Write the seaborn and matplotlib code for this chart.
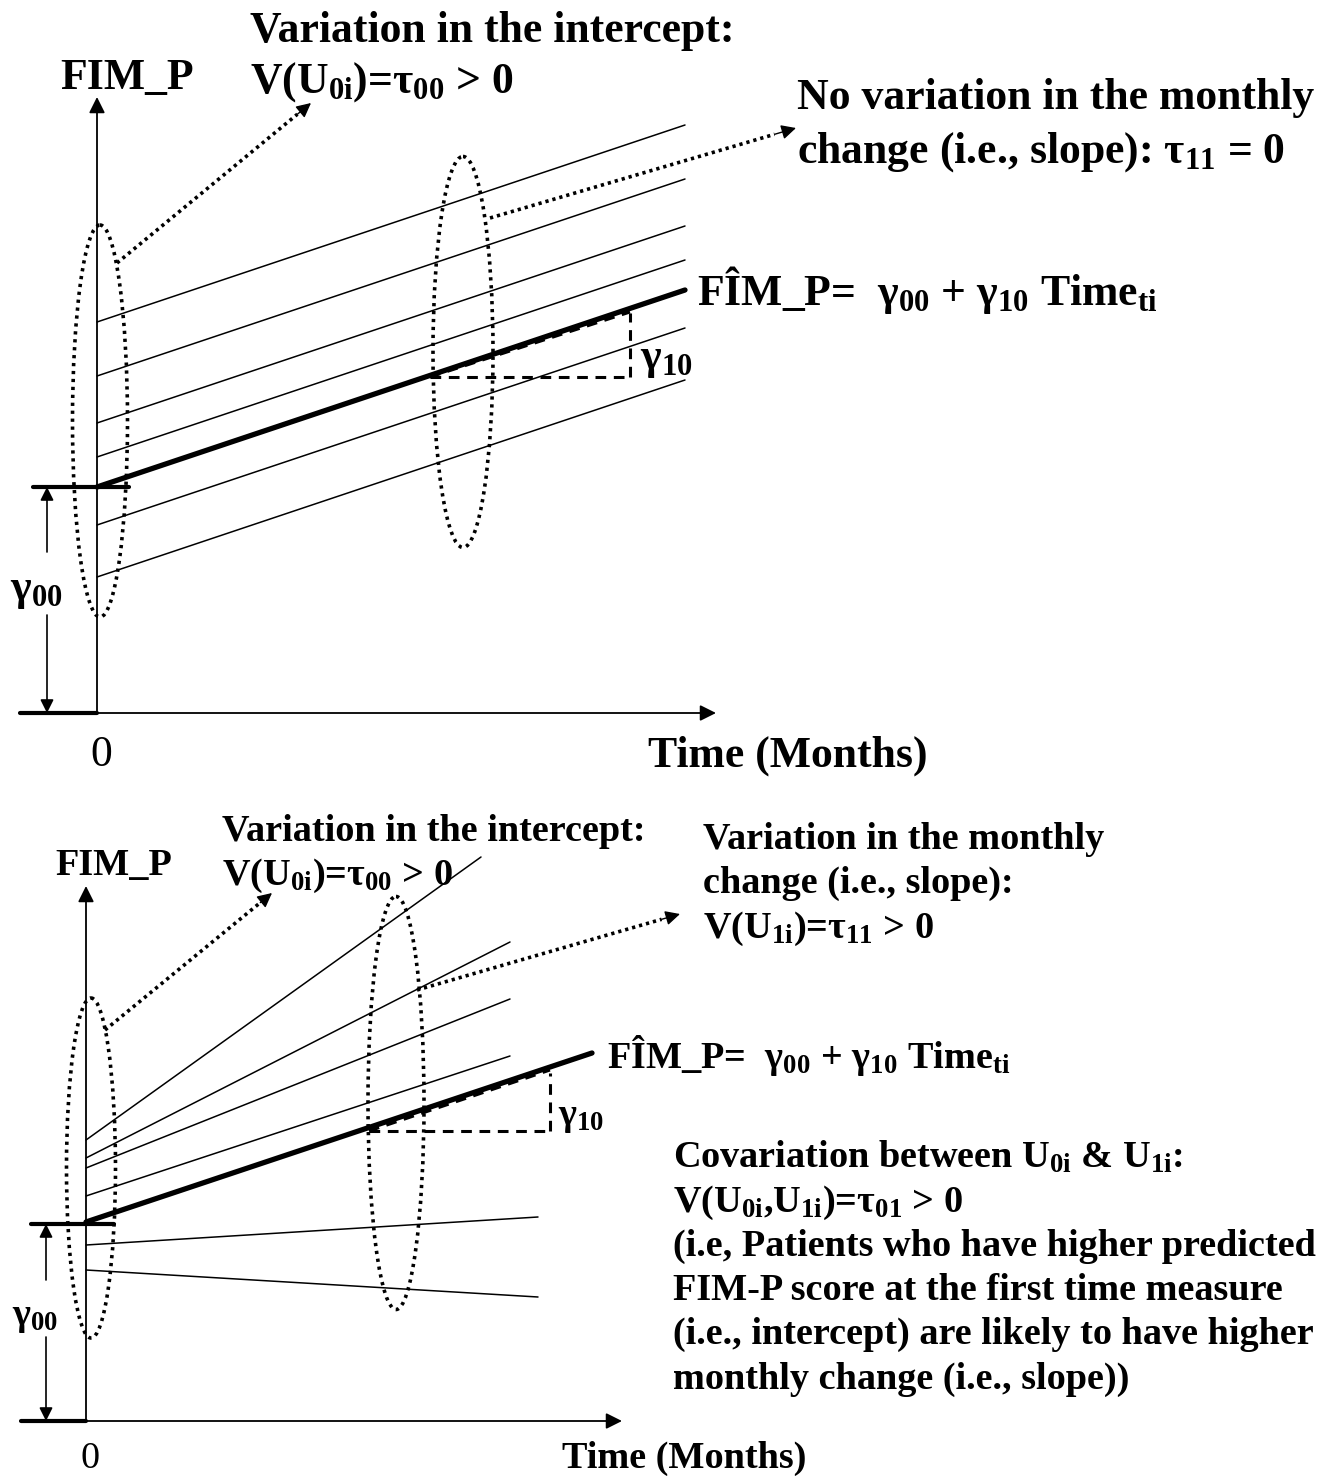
import matplotlib
matplotlib.use("Agg")
import matplotlib.pyplot as plt
from matplotlib.patches import Ellipse
import pandas as pd
import seaborn as sns

sns.set_theme(style="white")
plt.rcParams['font.family'] = ['Liberation Serif', 'DejaVu Serif']
plt.rcParams['font.weight'] = 'bold'

# ---- trajectories (pixel positions of both ends) ----
# top panel: same slope, different intercepts
top_x_start = [97, 97, 97, 97, 97, 97]
top_x_end = [685, 685, 685, 685, 685, 685]
top_y_start = [322, 376, 423, 457, 525, 577]
top_y_end = [125, 179, 226, 260, 328, 380]
top_mean_x = [97, 685]
top_mean_y = [487, 290]

# bottom panel: intercepts and slopes both vary
bot_x_start = [86, 86, 86, 86, 86, 86]
bot_x_end = [481, 510, 510, 510, 538, 538]
bot_y_start = [1140, 1158, 1168, 1196, 1245, 1270]
bot_y_end = [857, 942, 999, 1056, 1217, 1297]
bot_mean_x = [86, 592]
bot_mean_y = [1222, 1053]

W, H = 1342, 1476
fig = plt.figure(figsize=(W / 100, H / 100), dpi=100)
ax = fig.add_axes([0, 0, 1, 1])

rows = []
for i in range(len(top_y_start)):
    rows.append(("t%d" % i, top_x_start[i], top_y_start[i]))
    rows.append(("t%d" % i, top_x_end[i], top_y_end[i]))
for i in range(len(bot_y_start)):
    rows.append(("b%d" % i, bot_x_start[i], bot_y_start[i]))
    rows.append(("b%d" % i, bot_x_end[i], bot_y_end[i]))
lines = pd.DataFrame(rows, columns=["line", "x", "y"])
sns.lineplot(data=lines, x="x", y="y", units="line", estimator=None,
             sort=False, color="black", lw=1.1, ax=ax, legend=False)

mean = pd.DataFrame({"line": ["top", "top", "bot", "bot"],
                     "x": top_mean_x + bot_mean_x,
                     "y": top_mean_y + bot_mean_y})
sns.lineplot(data=mean, x="x", y="y", units="line", estimator=None,
             sort=False, color="black", lw=3.8, ax=ax, legend=False)

ax.set_xlim(0, W)
ax.set_ylim(H, 0)
ax.axis("off")


def arrow(x0, y0, x1, y1, lw=1.3, ms=24):
    ax.annotate("", xy=(x1, y1), xytext=(x0, y0),
                arrowprops=dict(arrowstyle="-|>", color="black", lw=lw,
                                mutation_scale=ms, shrinkA=0, shrinkB=0))


def dotted_arrow(x0, y0, x1, y1):
    f = 0.93
    xm, ym = x0 + (x1 - x0) * f, y0 + (y1 - y0) * f
    ax.plot([x0, xm], [y0, ym], color="black", lw=2.6,
            linestyle=(0, (0.9, 1.1)))
    arrow(xm, ym, x1, y1, lw=1, ms=22)


def dotted_ellipse(cx, cy, w, h):
    ax.add_patch(Ellipse((cx, cy), w, h, fill=False, ec="black", lw=2.6,
                         linestyle=(0, (0.9, 1.3))))


def dashed(xs, ys):
    ax.plot(xs, ys, color="black", lw=2.2, linestyle=(0, (3.5, 2.5)))


def label(x, yc, s, size, ha="left", weight="bold"):
    ax.text(x, yc + 0.33 * size * 100 / 72, s, fontsize=size, ha=ha,
            va="baseline", fontweight=weight, color="black")


# ================= top panel =================
arrow(97, 712, 97, 97, lw=1.3)
arrow(97, 713, 716, 713, lw=1.3)
ax.plot([20, 97], [713, 713], color="black", lw=3)
ax.plot([33, 129], [487, 487], color="black", lw=3)
arrow(47, 552, 47, 487, lw=1.2, ms=20)
arrow(47, 615, 47, 713, lw=1.2, ms=20)

dotted_ellipse(100, 421, 55, 392)
dotted_ellipse(463, 352, 60, 391)
dotted_arrow(117, 263, 311, 103)
dotted_arrow(490, 218, 796, 128)
dashed([430, 630], [377, 377])
dashed([630, 630], [377, 313])
dashed([430, 630], [377, 312])

s1 = 31.5
label(250, 28, "Variation in the intercept:", s1)
label(250, 78, r"V(U$\mathregular{_{0i}}$)=τ$\mathregular{_{00}}$ > 0", s1)
label(60, 75, "FIM_P", s1)
label(797, 95, "No variation in the monthly", s1)
label(797, 148, r"change (i.e., slope): τ$\mathregular{_{11}}$ = 0", s1)
label(697, 291, r"FÎM_P=  γ$\mathregular{_{00}}$ + γ$\mathregular{_{10}}$ Time$\mathregular{_{ti}}$", s1)
label(640, 355, r"γ$\mathregular{_{10}}$", s1)
label(10, 586, r"γ$\mathregular{_{00}}$", s1)
label(101, 752, "0", s1, ha="center", weight="normal")
label(648, 752, "Time (Months)", s1)

# ================= bottom panel =================
arrow(86, 1421, 86, 886, lw=1.3)
arrow(86, 1421, 622, 1421, lw=1.3)
ax.plot([21, 86], [1421, 1421], color="black", lw=3)
ax.plot([31, 114], [1224, 1224], color="black", lw=3)
arrow(46, 1280, 46, 1224, lw=1.2, ms=20)
arrow(46, 1337, 46, 1421, lw=1.2, ms=20)

dotted_ellipse(91, 1168, 49, 340)
dotted_ellipse(396, 1103, 56, 413)
dotted_arrow(105, 1030, 272, 893)
dotted_arrow(417, 990, 680, 914)
dashed([369, 550], [1131, 1131])
dashed([550, 550], [1131, 1073])
dashed([369, 550], [1131, 1070])

s2 = 27.5
label(222, 828, "Variation in the intercept:", s2)
label(222, 872, r"V(U$\mathregular{_{0i}}$)=τ$\mathregular{_{00}}$ > 0", s2)
label(55, 862, "FIM_P", s2)
label(703, 836, "Variation in the monthly", s2)
label(703, 880, "change (i.e., slope):", s2)
label(703, 925, r"V(U$\mathregular{_{1i}}$)=τ$\mathregular{_{11}}$ > 0", s2)
label(607, 1055, r"FÎM_P=  γ$\mathregular{_{00}}$ + γ$\mathregular{_{10}}$ Time$\mathregular{_{ti}}$", s2)
label(558, 1112, r"γ$\mathregular{_{10}}$", s2)
label(12, 1312, r"γ$\mathregular{_{00}}$", s2)
label(90, 1455, "0", s2, ha="center", weight="normal")
label(562, 1455, "Time (Months)", s2)

cov_lines = [
    r"Covariation between U$\mathregular{_{0i}}$ & U$\mathregular{_{1i}}$:",
    r"V(U$\mathregular{_{0i}}$,U$\mathregular{_{1i}}$)=τ$\mathregular{_{01}}$ > 0",
    "(i.e, Patients who have higher predicted",
    "FIM-P score at the first time measure",
    "(i.e., intercept) are likely to have higher",
    "monthly change (i.e., slope))",
]
cov_y = [1155, 1199, 1243, 1287, 1331, 1376]
for yc, s in zip(cov_y, cov_lines):
    label(673, yc, s, s2)

fig.savefig("out.png", dpi=100)
